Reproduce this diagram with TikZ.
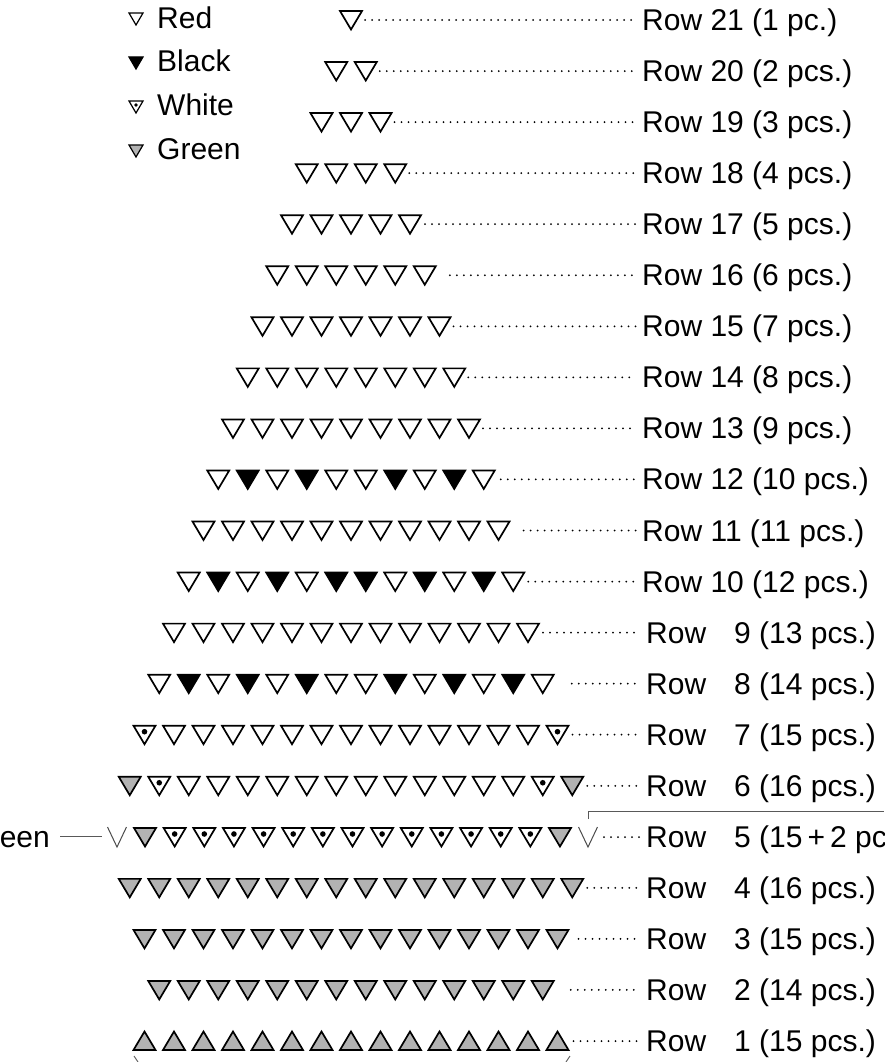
\documentclass[tikz,border=0pt]{standalone}
\usepackage{fontspec}
\setmainfont{Liberation Sans}
\tikzset{
  tri/.style={draw=black, line width=1.7pt, line join=miter},
  pics/triR/.style={code={\draw[tri,fill=white] (-11,-9)--(11,-9)--(0,9.5)--cycle;}},
  pics/triB/.style={code={\draw[tri,fill=black] (-11,-9)--(11,-9)--(0,9.5)--cycle;}},
  pics/triW/.style={code={\draw[tri,fill=white] (-11,-9)--(11,-9)--(0,9.5)--cycle; \fill[black] (0,-3) circle (2.8pt);}},
  pics/triG/.style={code={\draw[tri,fill=black!30] (-11,-9)--(11,-9)--(0,9.5)--cycle;}},
  pics/triU/.style={code={\draw[tri,fill=black!30] (-11,9)--(11,9)--(0,-9.5)--cycle;}},
  pics/triV/.style={code={\draw[line width=1pt, draw=black!70] (-9.5,-10)--(0,10)--(9.5,-10);}},
  legtri/.style={draw=black, line width=1.2pt, line join=miter},
  dotline/.style={line width=2pt, line cap=round, dash pattern=on 0pt off 7pt},
  rowlabel/.style={anchor=base west, inner sep=0pt, font=\fontsize{30}{35}\selectfont},
  thinline/.style={draw=black!65, line width=0.9pt},
}
% #1 row, #2 count, #3 types, #4 gap before dots, #5 label text
\newcommand\trirow[5]{%
  \pgfmathsetmacro\yy{20+(21-#1)*51.05}%
  \foreach \t [count=\i] in {#3}{%
    \pgfmathsetmacro\xx{351+(\i-(#2+1)/2)*29.5}%
    \pic at (\xx,\yy) {tri\t};
  }%
  \pgfmathsetmacro\xs{351+((#2-1)/2)*29.5+11+#4}%
  \ifnum#1<10 \def\lx{646}\def\ex{640}\else\def\lx{642}\def\ex{636}\fi
  \coordinate (s#1) at (\xs,\yy);
  \coordinate (e#1) at (\ex,\yy);
  \node[rowlabel] (L#1) at (\lx,\yy+10.5) {#5};
  \draw[dotline] (s#1) -- (e#1);
}
\begin{document}
\begin{tikzpicture}[x=1pt,y=-1pt]
\useasboundingbox (0,0) rectangle (884,1062);
\clip (0,0) rectangle (884,1062);
\fill[white] (0,0) rectangle (884,1062);

% legend
\draw[legtri,fill=white] (129,13)--(143,13)--(136,25)--cycle;
\node[rowlabel] (lr) at (157,28.5) {Red};
\draw[legtri,fill=black] (129,57)--(143,57)--(136,69)--cycle;
\node[rowlabel] (lb) at (157,72) {Black};
\draw[legtri,fill=white] (129,101)--(143,101)--(136,113)--cycle;
\fill[black] (136,105) circle (1.8pt);
\node[rowlabel] (lw) at (157,115.5) {White};
\draw[legtri,fill=black!30] (129,145)--(143,145)--(136,157)--cycle;
\node[rowlabel] (lg) at (157,159.5) {Green};

\trirow{21}{1}{R}{3}{Row 21 (1 pc.)}
\trirow{20}{2}{R,R}{3}{Row 20 (2 pcs.)}
\trirow{19}{3}{R,R,R}{3}{Row 19 (3 pcs.)}
\trirow{18}{4}{R,R,R,R}{3}{Row 18 (4 pcs.)}
\trirow{17}{5}{R,R,R,R,R}{4}{Row 17 (5 pcs.)}
\trirow{16}{6}{R,R,R,R,R,R}{14}{Row 16 (6 pcs.)}
\trirow{15}{7}{R,R,R,R,R,R,R}{3}{Row 15 (7 pcs.)}
\trirow{14}{8}{R,R,R,R,R,R,R,R}{3}{Row 14 (8 pcs.)}
\trirow{13}{9}{R,R,R,R,R,R,R,R,R}{3}{Row 13 (9 pcs.)}
\trirow{12}{10}{R,B,R,B,R,R,B,R,B,R}{6}{Row 12 (10 pcs.)}
\trirow{11}{11}{R,R,R,R,R,R,R,R,R,R,R}{14}{Row 11 (11 pcs.)}
\trirow{10}{12}{R,B,R,B,R,B,B,R,B,R,B,R}{4}{Row 10 (12 pcs.)}
\trirow{9}{13}{R,R,R,R,R,R,R,R,R,R,R,R,R}{4}{Row\hspace{28pt}9 (13 pcs.)}
\trirow{8}{14}{R,B,R,B,R,B,R,R,B,R,B,R,B,R}{18}{Row\hspace{28pt}8 (14 pcs.)}
\trirow{7}{15}{W,R,R,R,R,R,R,R,R,R,R,R,R,R,W}{4}{Row\hspace{28pt}7 (15 pcs.)}
\trirow{6}{16}{G,W,R,R,R,R,R,R,R,R,R,R,R,R,W,G}{4}{Row\hspace{28pt}6 (16 pcs.)}

% row 5 (15 + 2)
\foreach \t [count=\i] in {G,W,W,W,W,W,W,W,W,W,W,W,W,W,G}{
  \pgfmathsetmacro\xx{352.5+(\i-8)*29.64}
  \pic at (\xx,837) {tri\t};
}
\pic at (117,837) {triV};
\pic at (588,837) {triV};
\coordinate (s5) at (604,837);
\coordinate (e5) at (640,837);
\draw[dotline] (s5) -- (e5);
\node[rowlabel] (L5) at (646,847.5) {Row\hspace{28pt}5 (15\,+\,2 pcs.)};
\node[rowlabel, anchor=base east] (G5) at (50,847.5) {Green};
\coordinate (g5a) at (60,836);
\coordinate (g5b) at (102,836);
\draw[thinline] (g5a) -- (g5b);
\coordinate (b5a) at (588,819);
\coordinate (b5b) at (884,811);
\draw[thinline] (b5a) |- (b5b);

\trirow{4}{16}{G,G,G,G,G,G,G,G,G,G,G,G,G,G,G,G}{4}{Row\hspace{28pt}4 (16 pcs.)}
\trirow{3}{15}{G,G,G,G,G,G,G,G,G,G,G,G,G,G,G}{10}{Row\hspace{28pt}3 (15 pcs.)}
\trirow{2}{14}{G,G,G,G,G,G,G,G,G,G,G,G,G,G}{17}{Row\hspace{28pt}2 (14 pcs.)}
\trirow{1}{15}{U,U,U,U,U,U,U,U,U,U,U,U,U,U,U}{5}{Row\hspace{28pt}1 (15 pcs.)}

% bottom ticks
\coordinate (t1a) at (134,1056);
\coordinate (t1b) at (138,1062);
\draw[thinline] (t1a) -- (t1b);
\coordinate (t2a) at (570,1056);
\coordinate (t2b) at (566,1062);
\draw[thinline] (t2a) -- (t2b);
\end{tikzpicture}
\end{document}
